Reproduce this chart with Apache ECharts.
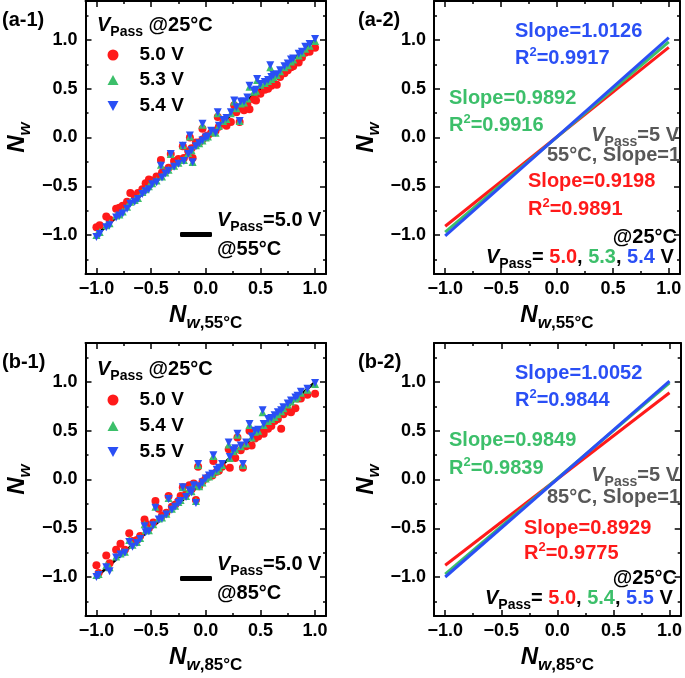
<!DOCTYPE html>
<html><head><meta charset="utf-8">
<script src="https://cdn.jsdelivr.net/npm/echarts@6/dist/echarts.min.js"></script>
<style>html,body{margin:0;padding:0;background:#fff}#c{width:685px;height:678px}</style>
</head><body><div id="c"></div>
<script>
const FONT = 'Liberation Sans, Arial, sans-serif';
const RED = '#ff1a1a', GREEN = '#3cbf6a', BLUE = '#2a4ff5', GRAY = '#585858';

// ---- (a-1) scatter: Nw@25°C vs Nw@55°C
const xA1 = [-1.00,-0.97,-0.91,-0.88,-0.82,-0.79,-0.76,-0.72,-0.69,-0.65,
  -0.62,-0.58,-0.55,-0.52,-0.49,-0.45,-0.41,-0.40,-0.37,-0.34,
  -0.32,-0.29,-0.25,-0.21,-0.20,-0.16,-0.145,-0.13,-0.12,-0.09,
  -0.06,-0.03,-0.03,0.00,0.02,0.05,0.09,0.11,0.12,0.16,
  0.19,0.23,0.26,0.28,0.31,0.32,0.35,0.38,0.40,0.44,
  0.46,0.47,0.50,0.54,0.57,0.59,0.60,0.62,0.65,0.68,
  0.72,0.75,0.78,0.80,0.85,0.88,0.91,0.95,1.00];
const redA1 = [-0.92,-0.90,-0.81,-0.84,-0.73,-0.72,-0.70,-0.66,-0.57,-0.60,
  -0.57,-0.53,-0.47,-0.43,-0.44,-0.40,-0.23,-0.36,-0.34,-0.31,
  -0.17,-0.24,-0.22,-0.09,-0.21,-0.14,0.00,-0.11,-0.21,-0.05,
  -0.05,0.09,-0.02,0.01,0.02,0.05,0.07,0.21,0.11,0.15,
  0.12,0.16,0.33,0.26,0.16,0.30,0.28,0.34,0.29,0.39,
  0.38,0.46,0.45,0.49,0.50,0.55,0.53,0.55,0.54,0.62,
  0.66,0.69,0.72,0.73,0.77,0.82,0.87,0.88,0.92];
const greenA1 = [-1.00,-0.97,-0.90,-0.88,-0.80,-0.79,-0.76,-0.71,-0.66,-0.64,
  -0.62,-0.56,-0.53,-0.50,-0.47,-0.44,-0.28,-0.40,-0.36,-0.33,
  -0.17,-0.29,-0.26,-0.08,-0.23,-0.16,0.01,-0.13,-0.25,-0.08,
  -0.06,0.13,-0.03,0.00,0.01,0.06,0.05,0.25,0.12,0.17,
  0.19,0.25,0.37,0.30,0.17,0.35,0.36,0.40,0.52,0.47,
  0.48,0.59,0.54,0.56,0.58,0.72,0.60,0.62,0.64,0.68,
  0.72,0.74,0.78,0.80,0.84,0.87,0.91,0.94,0.99];
const blueA1 = [-1.02,-0.99,-0.92,-0.90,-0.82,-0.80,-0.78,-0.73,-0.68,-0.66,
  -0.63,-0.58,-0.55,-0.53,-0.48,-0.46,-0.29,-0.41,-0.37,-0.34,
  -0.17,-0.30,-0.27,-0.085,-0.24,-0.17,0.02,-0.13,-0.255,-0.09,
  -0.06,0.14,-0.03,0.00,0.01,0.07,0.05,0.26,0.12,0.18,
  0.20,0.26,0.38,0.31,0.17,0.37,0.37,0.41,0.53,0.48,
  0.49,0.60,0.55,0.57,0.59,0.74,0.62,0.64,0.65,0.69,
  0.73,0.76,0.80,0.81,0.86,0.88,0.93,0.96,1.01];

// ---- (b-1) scatter: Nw@25°C vs Nw@85°C
const xB1 = [-1.00,-0.98,-0.91,-0.88,-0.82,-0.78,-0.74,-0.70,-0.67,-0.63,
  -0.60,-0.56,-0.55,-0.52,-0.48,-0.46,-0.43,-0.40,-0.36,-0.34,
  -0.31,-0.28,-0.25,-0.23,-0.21,-0.18,-0.15,-0.13,-0.11,-0.09,
  -0.07,-0.06,-0.03,0.00,0.03,0.06,0.07,0.10,0.12,0.15,
  0.22,0.21,0.25,0.27,0.29,0.32,0.34,0.37,0.40,0.42,
  0.45,0.48,0.52,0.53,0.57,0.60,0.63,0.66,0.69,0.71,
  0.75,0.78,0.82,0.84,0.87,0.93,1.00];
const redB1 = [-0.88,-0.96,-0.78,-0.86,-0.72,-0.66,-0.72,-0.55,-0.63,-0.62,
  -0.58,-0.41,-0.45,-0.50,-0.44,-0.22,-0.30,-0.37,-0.34,-0.17,
  -0.28,-0.26,-0.22,-0.17,-0.08,-0.15,-0.06,-0.10,-0.04,-0.21,
  0.13,-0.07,-0.02,0.01,0.03,0.04,0.19,0.08,0.09,0.13,
  0.12,0.31,0.26,0.22,0.43,0.30,0.12,0.34,0.50,0.35,
  0.42,0.44,0.50,0.47,0.52,0.55,0.60,0.62,0.52,0.67,
  0.70,0.69,0.73,0.83,0.83,0.87,0.88];
const greenB1 = [-0.98,-0.97,-0.88,-0.90,-0.79,-0.76,-0.74,-0.62,-0.67,-0.64,
  -0.60,-0.46,-0.52,-0.52,-0.46,-0.28,-0.40,-0.39,-0.35,-0.19,
  -0.30,-0.27,-0.23,-0.21,-0.08,-0.17,-0.10,-0.12,-0.05,-0.22,
  0.15,-0.07,-0.03,0.01,0.03,0.06,0.24,0.09,0.12,0.15,
  0.22,0.36,0.29,0.31,0.46,0.34,0.15,0.37,0.56,0.43,
  0.49,0.50,0.69,0.56,0.60,0.62,0.64,0.67,0.70,0.73,
  0.77,0.80,0.83,0.85,0.89,0.92,0.98];
const blueB1 = [-1.00,-0.98,-0.90,-0.94,-0.80,-0.77,-0.75,-0.64,-0.69,-0.65,
  -0.61,-0.48,-0.54,-0.53,-0.47,-0.29,-0.41,-0.40,-0.36,-0.20,
  -0.31,-0.28,-0.24,-0.22,-0.08,-0.18,-0.11,-0.13,-0.06,-0.24,
  0.16,-0.07,-0.03,0.01,0.04,0.06,0.25,0.10,0.12,0.16,
  0.23,0.38,0.30,0.32,0.47,0.35,0.16,0.38,0.57,0.44,
  0.50,0.51,0.71,0.57,0.62,0.63,0.66,0.69,0.71,0.74,
  0.78,0.81,0.84,0.86,0.90,0.93,0.99];

// reference line (slope 1) and fitted lines (end points at x = -1, 1)
const refX = [-1, 1], refY = [-1, 1];
const fitX = [-1, 1];
const redA2 = [-0.91, 0.925], greenA2 = [-0.97, 0.98], blueA2 = [-1.01, 1.025];
const redB2 = [-0.88, 0.89], greenB2 = [-0.97, 0.99], blueB2 = [-1.00, 1.01];

// ticks
const majorTicks = [-1, -0.5, 0, 0.5, 1];
const minorTicks = [-1.25, -0.75, -0.25, 0.25, 0.75, 1.25];
const tickLabels = ['\u22121.0', '\u22120.5', '0.0', '0.5', '1.0'];

const zip = (xs, ys) => xs.map((x, i) => [x, ys[i]]);
const fmt = v => { const i = majorTicks.findIndex(m => Math.abs(m - v) < 1e-9); return i < 0 ? '' : tickLabels[i]; };

const grids = [
  {left: 78, top: 1, width: 248, height: 273},
  {left: 434, top: 1, width: 246, height: 273},
  {left: 78, top: 343, width: 248, height: 273},
  {left: 434, top: 343, width: 247, height: 273}
];

const nameRich = {
  n: {fontSize: 24, fontStyle: 'italic', fontWeight: 'bold', fontFamily: FONT, color: '#000', lineHeight: 30},
  w: {fontSize: 17, fontStyle: 'italic', fontWeight: 'bold', fontFamily: FONT, color: '#000', padding: [16, 0, 0, 0], lineHeight: 30},
  t: {fontSize: 17, fontWeight: 'bold', fontFamily: FONT, color: '#000', padding: [16, 0, 0, 0], lineHeight: 30}
};

const xAxes = [], yAxes = [];
function addAxes(g, temp) {
  const lineStyle = {color: '#000', width: 2};
  const tickLine = {color: '#000', width: 1.5};
  const lbl = {fontSize: 18, fontWeight: 'bold', fontFamily: FONT, color: '#000', formatter: fmt, customValues: majorTicks};
  const mk = (isX, pos, major, withLabel) => {
    const ax = {
      gridIndex: g, type: 'value', position: pos,
      min: isX ? -1.1 : -1.4, max: isX ? 1.1 : 1.4,
      splitLine: {show: false},
      axisLine: {show: major, onZero: false, lineStyle},
      axisTick: {show: true, inside: true, length: major ? 6 : 3, lineStyle: tickLine, customValues: major ? majorTicks : minorTicks},
      axisLabel: withLabel ? Object.assign({margin: isX ? 6 : 8}, lbl) : {show: false},
      silent: true
    };
    if (withLabel) {
      ax.nameLocation = 'middle';
      ax.nameTextStyle = {rich: nameRich};
      if (isX) { ax.name = '{n|N}{w|w}{t|,' + temp + '}'; ax.nameGap = 24; }
      else { ax.name = '{n|N}{w|w}'; ax.nameGap = 53; }
    }
    return ax;
  };
  xAxes.push(mk(true, 'bottom', true, true), mk(true, 'bottom', false, false), mk(true, 'top', true, false), mk(true, 'top', false, false));
  yAxes.push(mk(false, 'left', true, true), mk(false, 'left', false, false), mk(false, 'right', true, false), mk(false, 'right', false, false));
}
addAxes(0, '55°C'); addAxes(1, '55°C'); addAxes(2, '85°C'); addAxes(3, '85°C');

const TRI_UP = 'path://M5,0L10,9L0,9Z';
const TRI_DOWN = 'path://M0,0L10,0L5,9Z';
function scatter(name, g, xs, ys, color, symbol, z) {
  return {type: 'scatter', name, xAxisIndex: g * 4, yAxisIndex: g * 4, data: zip(xs, ys),
    symbol, symbolSize: 8, itemStyle: {color, opacity: 1}, z, silent: true};
}
function line(name, g, xs, ys, color, width, z) {
  return {type: 'line', name, xAxisIndex: g * 4, yAxisIndex: g * 4, data: zip(xs, ys),
    showSymbol: false, symbol: 'none', lineStyle: {color, width}, itemStyle: {color}, z, silent: true};
}

const series = [
  line('a|ref', 0, refX, refY, '#000', 2.5, 1),
  scatter('a|5.0 V', 0, xA1, redA1, RED, 'circle', 2),
  scatter('a|5.3 V', 0, xA1, greenA1, GREEN, TRI_UP, 3),
  scatter('a|5.4 V', 0, xA1, blueA1, BLUE, TRI_DOWN, 4),
  line('a2|r', 1, fitX, redA2, RED, 3, 2),
  line('a2|g', 1, fitX, greenA2, GREEN, 3, 3),
  line('a2|b', 1, fitX, blueA2, BLUE, 3, 4),
  line('b|ref', 2, refX, refY, '#000', 2.5, 1),
  scatter('b|5.0 V', 2, xB1, redB1, RED, 'circle', 2),
  scatter('b|5.4 V', 2, xB1, greenB1, GREEN, TRI_UP, 3),
  scatter('b|5.5 V', 2, xB1, blueB1, BLUE, TRI_DOWN, 4),
  line('b2|r', 3, fitX, redB2, RED, 3, 2),
  line('b2|g', 3, fitX, greenB2, GREEN, 3, 3),
  line('b2|b', 3, fitX, blueB2, BLUE, 3, 4)
];

const legRich = {
  v: {fontSize: 20, fontStyle: 'italic', fontWeight: 'bold', fontFamily: FONT, color: '#000', lineHeight: 29},
  p: {fontSize: 14, fontWeight: 'bold', fontFamily: FONT, color: '#000', padding: [14, 0, 0, 0], lineHeight: 29},
  t: {fontSize: 20, fontWeight: 'bold', fontFamily: FONT, color: '#000', lineHeight: 29}
};
// one legend per row so each row sits at its own centre
function rowLegend(name, centerY) {
  return {orient: 'vertical', left: 107.5, top: centerY - 11, padding: 0, itemWidth: 11, itemHeight: 11,
    selectedMode: false, data: [name],
    formatter: n => n.split('|')[1],
    textStyle: {fontSize: 19, fontWeight: 'bold', fontFamily: FONT, color: '#000', lineHeight: 22, padding: [0, 0, 0, 16]}};
}
function refLegend(prefix, temp, top) {
  return {orient: 'vertical', left: 180, top, padding: 0, itemWidth: 32, itemHeight: 5, selectedMode: false,
    data: [{name: prefix + '|ref', icon: 'roundRect'}],
    formatter: () => '{v|V}{p|Pass}{t|=5.0 V}\n{t|@' + temp + '}',
    textStyle: {rich: legRich, color: '#000'}};
}

function T(x, y, text, fill, align, size) {
  size = size || 20;
  const base = {fontSize: size, fontWeight: 'bold', fontFamily: FONT, fill};
  return {type: 'text', x, y, z: 100, silent: true, style: {
    text, align: align || 'left', verticalAlign: 'middle', fontSize: size, fontWeight: 'bold', fontFamily: FONT, fill,
    rich: {
      a: Object.assign({}, base),
      v: Object.assign({}, base, {fontStyle: 'italic', lineHeight: 26}),
      p: Object.assign({}, base, {fontSize: 14, padding: [14, 0, 0, 0], lineHeight: 26}),
      t: Object.assign({}, base, {lineHeight: 26}),
      s: Object.assign({}, base, {fontSize: 13, padding: [0, 0, 12, 0]}),
      r: Object.assign({}, base, {fill: RED, lineHeight: 26}),
      g: Object.assign({}, base, {fill: GREEN, lineHeight: 26}),
      b: Object.assign({}, base, {fill: BLUE, lineHeight: 26})
    }}};
}

const graphics = [
  T(2, 20, '(a-1)', '#000', 'left', 20),
  T(358, 20, '(a-2)', '#000', 'left', 20),
  T(2, 362, '(b-1)', '#000', 'left', 20),
  T(358, 362, '(b-2)', '#000', 'left', 20),
  T(97, 25, '{v|V}{p|Pass}{t| @25°C}', '#000'),
  T(97, 369, '{v|V}{p|Pass}{t| @25°C}', '#000'),
  // (a-2)
  T(515, 31, 'Slope=1.0126', BLUE),
  T(515, 58, '{a|R}{s|2}{a|=0.9917}', BLUE),
  T(449, 98, 'Slope=0.9892', GREEN),
  T(449, 125, '{a|R}{s|2}{a|=0.9916}', GREEN),
  T(679, 135, '{v|V}{p|Pass}{t|=5 V}', GRAY, 'right'),
  T(547, 155, '55°C, Slope=1', GRAY),
  T(528, 181, 'Slope=0.9198', RED),
  T(528, 209, '{a|R}{s|2}{a|=0.9891}', RED),
  T(677, 237, '@25°C', '#000', 'right'),
  T(486, 257, '{v|V}{p|Pass}{t|= }{r|5.0}{t|, }{g|5.3}{t|, }{b|5.4}{t| V}', '#000'),
  // (b-2)
  T(515, 373, 'Slope=1.0052', BLUE),
  T(515, 400, '{a|R}{s|2}{a|=0.9844}', BLUE),
  T(449, 440, 'Slope=0.9849', GREEN),
  T(449, 468, '{a|R}{s|2}{a|=0.9839}', GREEN),
  T(679, 475, '{v|V}{p|Pass}{t|=5 V}', GRAY, 'right'),
  T(547, 497, '85°C, Slope=1', GRAY),
  T(524, 528, 'Slope=0.8929', RED),
  T(524, 553, '{a|R}{s|2}{a|=0.9775}', RED),
  T(677, 578, '@25°C', '#000', 'right'),
  T(485, 598, '{v|V}{p|Pass}{t|= }{r|5.0}{t|, }{g|5.4}{t|, }{b|5.5}{t| V}', '#000')
];

const chart = echarts.init(document.getElementById('c'), null, {renderer: 'canvas'});
chart.setOption({
  animation: false,
  backgroundColor: '#fff',
  grid: grids,
  xAxis: xAxes,
  yAxis: yAxes,
  legend: [
    rowLegend('a|5.0 V', 55), rowLegend('a|5.3 V', 80), rowLegend('a|5.4 V', 106),
    rowLegend('b|5.0 V', 400), rowLegend('b|5.4 V', 426), rowLegend('b|5.5 V', 452),
    refLegend('a', '55°C', 206),
    refLegend('b', '85°C', 550)
  ],
  series,
  graphic: graphics
});
</script></body></html>
